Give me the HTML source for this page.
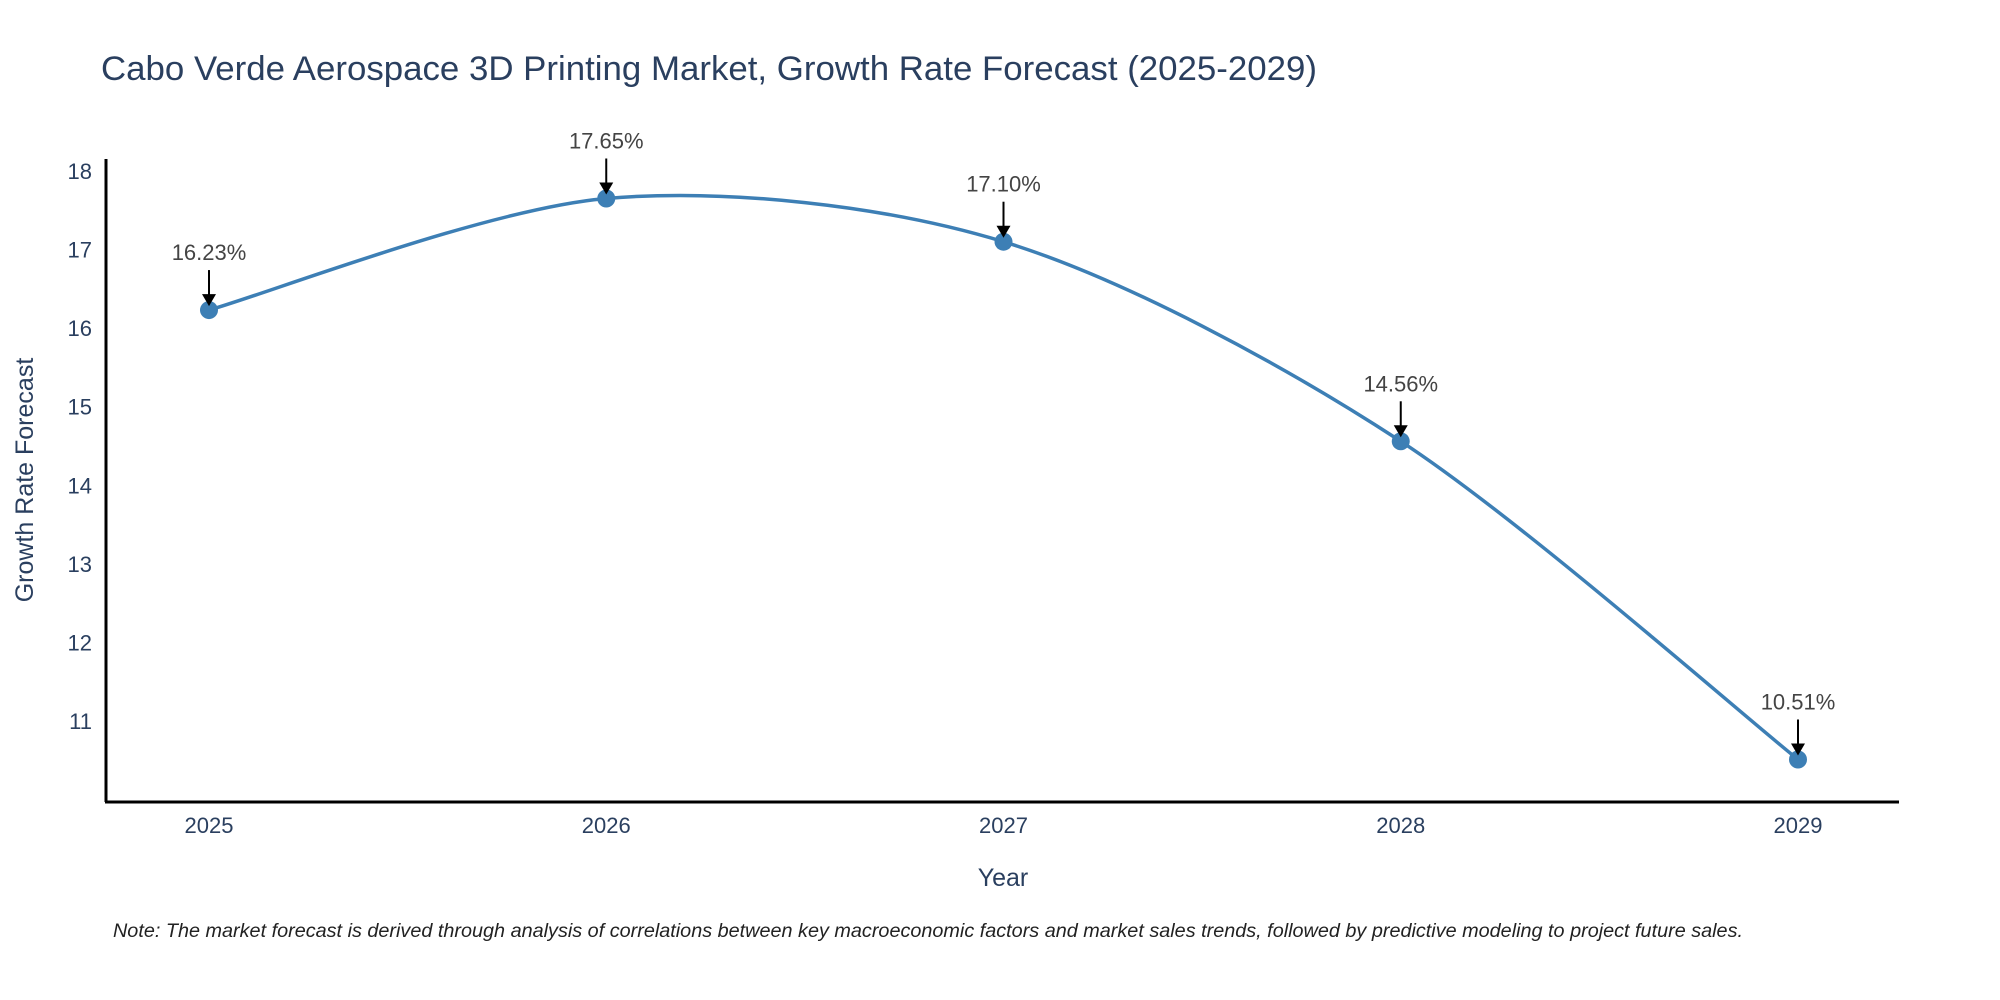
<!DOCTYPE html>
<html><head><meta charset="utf-8"><style>
body{margin:0;background:#fff;}
svg{display:block;font-family:"Liberation Sans","DejaVu Sans",sans-serif;}
</style></head><body>
<svg id="chart" width="2000" height="1000" viewBox="0 0 2000 1000">
<text x="101" y="80" font-size="34" fill="#2a3f5f" textLength="1216" lengthAdjust="spacingAndGlyphs">Cabo Verde Aerospace 3D Printing Market, Growth Rate Forecast (2025-2029)</text>
<g id="yticks"></g>
<g id="xticks"></g>
<line x1="106" y1="159" x2="106" y2="802" stroke="#000" stroke-width="3"/>
<line x1="105" y1="802" x2="1899" y2="802" stroke="#000" stroke-width="3"/>
<text transform="translate(33,480) rotate(-90)" text-anchor="middle" font-size="25" fill="#2a3f5f">Growth Rate Forecast</text>
<text x="1003" y="886" text-anchor="middle" font-size="25" fill="#2a3f5f">Year</text>
<path id="line" fill="none" stroke="#3d7fb5" stroke-width="3.5"/>
<g id="points"></g>
<g id="annos"></g>
<text x="113" y="937" font-size="19" font-style="italic" fill="#222" textLength="1630" lengthAdjust="spacingAndGlyphs">Note: The market forecast is derived through analysis of correlations between key macroeconomic factors and market sales trends, followed by predictive modeling to project future sales.</text>
</svg>
<script>
const years = [2025, 2026, 2027, 2028, 2029];
const growth = [16.23, 17.65, 17.10, 14.56, 10.51];
const yTicks = [11, 12, 13, 14, 15, 16, 17, 18];
const NS = "http://www.w3.org/2000/svg";
function xS(v){ return 209 + (v - 2025) * (1798 - 209) / 4; }
function yS(v){ return 721 - (v - 11) * (721 - 171) / 7; }
function mk(tag, attrs, parent, text){
  const e = document.createElementNS(NS, tag);
  for (const k in attrs) e.setAttribute(k, attrs[k]);
  if (text !== undefined) e.textContent = text;
  parent.appendChild(e);
  return e;
}
const yg = document.getElementById('yticks');
yTicks.forEach(t => {
  const e = mk('text', {x: 92, y: yS(t) + 8, 'text-anchor': 'end', 'font-size': 22, fill: '#2a3f5f'}, yg, String(t));
  
  
});
const xg = document.getElementById('xticks');
years.forEach(y => {
  const e = mk('text', {x: xS(y), y: 833, 'text-anchor': 'middle', 'font-size': 22, fill: '#2a3f5f'}, xg, String(y));
  
  
});
const pts = years.map((y, i) => [xS(y), yS(growth[i])]);
let d = 'M' + pts[0][0] + ',' + pts[0][1];
const s = 0.15;
for (let i = 0; i < pts.length - 1; i++) {
  const p0 = pts[Math.max(0, i - 1)], p1 = pts[i], p2 = pts[i + 1], p3 = pts[Math.min(pts.length - 1, i + 2)];
  const c1 = [p1[0] + (p2[0] - p0[0]) * s, p1[1] + (p2[1] - p0[1]) * s];
  const c2 = [p2[0] - (p3[0] - p1[0]) * s, p2[1] - (p3[1] - p1[1]) * s];
  d += ' C' + c1.join(',') + ' ' + c2.join(',') + ' ' + p2.join(',');
}
document.getElementById('line').setAttribute('d', d);
const pg = document.getElementById('points');
const ag = document.getElementById('annos');
pts.forEach((p, i) => {
  const c = mk('circle', {cx: p[0], cy: p[1], r: 9, fill: '#3d7fb5'}, pg);
  
  
  const l = mk('line', {x1: p[0], y1: p[1] - 40, x2: p[0], y2: p[1] - 12, stroke: '#000', 'stroke-width': 2}, ag);
  
  
  const a = mk('path', {d: `M${p[0]-7},${p[1]-16} L${p[0]+7},${p[1]-16} L${p[0]},${p[1]-4} Z`, fill: '#000'}, ag);
  
  
  const t = mk('text', {x: p[0], y: p[1] - 50, 'text-anchor': 'middle', 'font-size': 22, fill: '#444'}, ag, growth[i].toFixed(2) + '%');
  
  
});
</script>
</body></html>
